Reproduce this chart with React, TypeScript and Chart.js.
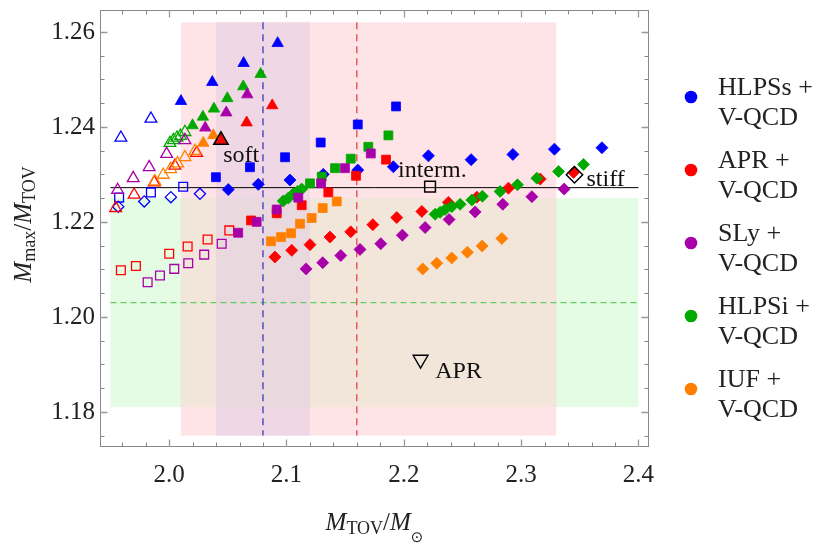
import React, { useEffect, useRef } from "react";
import { Chart, registerables } from "chart.js";

Chart.register(...registerables);

type Pt = [number, number];

// ---------- axes ----------
const xRange = [1.9411, 2.409];
const yRange = [1.1726, 1.2646];
const xTickValues = [2.0, 2.1, 2.2, 2.3, 2.4];
const xTickLabels = ["2.0", "2.1", "2.2", "2.3", "2.4"];
const yTickValues = [1.18, 1.2, 1.22, 1.24, 1.26];
const yTickLabels = ["1.18", "1.20", "1.22", "1.24", "1.26"];
const xMinorTickValues = [1.96, 1.98, 2.02, 2.04, 2.06, 2.08, 2.12, 2.14, 2.16, 2.18, 2.22, 2.24, 2.26, 2.28, 2.32, 2.34, 2.36, 2.38];
const yMinorTickValues = [1.175, 1.185, 1.19, 1.195, 1.205, 1.21, 1.215, 1.225, 1.23, 1.235, 1.245, 1.25, 1.255];

// ---------- series ----------
const seriesNames = ["HLPSs", "APR", "SLy", "HLPSi", "IUF"];
const seriesColors = ["#0000ff", "#ff0000", "#a800a8", "#00a800", "#ff8000"];

// HLPSs + V-QCD
const hlpssTriFilled: Pt[] = [[2.0101, 1.2454], [2.0368, 1.2494], [2.0635, 1.2534], [2.0925, 1.2576]];
const hlpssTriOpen: Pt[] = [[1.9589, 1.2377], [1.9845, 1.2417]];
const hlpssSqFilled: Pt[] = [[2.0399, 1.2294], [2.0689, 1.2315], [2.0988, 1.2336], [2.1292, 1.2367], [2.1608, 1.2405], [2.1934, 1.2443]];
const hlpssSqOpen: Pt[] = [[1.9574, 1.2251], [1.9845, 1.2262], [2.012, 1.2274]];
const hlpssDiaFilled: Pt[] = [[2.0504, 1.2268], [2.076, 1.2279], [2.103, 1.2288], [2.1314, 1.23], [2.1608, 1.2309], [2.1911, 1.2316], [2.221, 1.2339], [2.2574, 1.2331], [2.293, 1.2342], [2.3284, 1.2353], [2.3689, 1.2356]];
const hlpssDiaOpen: Pt[] = [[1.9566, 1.2232], [1.9788, 1.2243], [2.0015, 1.2252], [2.0263, 1.2259]];

// APR + V-QCD
const aprTriFilled: Pt[] = [[2.0442, 1.2372], [2.0661, 1.2409], [2.0879, 1.2445]];
const aprTriOpen: Pt[] = [[1.9545, 1.2229], [1.9702, 1.2257], [1.9873, 1.2283], [2.0049, 1.2318], [2.0235, 1.2345]];
const aprSqFilled: Pt[] = [[2.0698, 1.2203], [2.0917, 1.2218], [2.113, 1.2235], [2.1357, 1.2262], [2.1593, 1.2297], [2.1849, 1.2331]];
const aprSqOpen: Pt[] = [[1.9589, 1.2098], [1.9717, 1.2107], [2.0001, 1.2133], [2.0158, 1.2148], [2.0328, 1.2163], [2.0513, 1.2182]];
const aprDiaFilled: Pt[] = [[2.0902, 1.2126], [2.1045, 1.214], [2.1201, 1.2152], [2.1371, 1.2168], [2.1548, 1.2179], [2.1736, 1.2194], [2.194, 1.2209], [2.2154, 1.2222], [2.238, 1.2241], [2.2623, 1.2252], [2.2892, 1.2271], [2.3163, 1.229], [2.3447, 1.2304]];

// SLy + V-QCD
const slyTriFilled: Pt[] = [[2.0308, 1.2398], [2.0487, 1.243], [2.0666, 1.2468]];
const slyTriOpen: Pt[] = [[1.9561, 1.2267], [1.9694, 1.2292], [1.983, 1.2315], [1.9979, 1.2343], [2.0135, 1.2372]];
const slySqFilled: Pt[] = [[2.0589, 1.2177], [2.0746, 1.22], [2.0917, 1.2226], [2.1101, 1.2251], [2.1295, 1.2281], [2.1499, 1.2313], [2.1719, 1.2344]];
const slySqOpen: Pt[] = [[1.9817, 1.2073], [1.9922, 1.2087], [2.0044, 1.2101], [2.0163, 1.2113], [2.0299, 1.2131], [2.0448, 1.2154]];
const slyDiaFilled: Pt[] = [[2.1167, 1.2101], [2.1309, 1.2114], [2.1463, 1.2129], [2.1627, 1.2142], [2.1804, 1.2154], [2.1988, 1.2172], [2.2182, 1.2188], [2.2386, 1.2205], [2.2608, 1.2221], [2.2844, 1.2237], [2.3092, 1.2253], [2.3367, 1.2269]];

// HLPSi + V-QCD
const hlpsiTriFilled: Pt[] = [[2.02, 1.2403], [2.0288, 1.2421], [2.0382, 1.2438], [2.0496, 1.246], [2.0632, 1.2485], [2.078, 1.2511]];
const hlpsiTriOpen: Pt[] = [[2.0007, 1.2366], [2.0037, 1.2372], [2.0067, 1.2377], [2.0096, 1.2381], [2.0135, 1.2389]];
const hlpsiSqFilled: Pt[] = [[2.1201, 1.2281], [2.1301, 1.2295], [2.1414, 1.2313], [2.1548, 1.2333], [2.1698, 1.2358], [2.1869, 1.2382]];
const hlpsiDiaFilled: Pt[] = [[2.0973, 1.2244], [2.1016, 1.225], [2.1058, 1.2259], [2.1095, 1.2264], [2.113, 1.2269], [2.2267, 1.2216], [2.231, 1.222], [2.2352, 1.2226], [2.2409, 1.2232], [2.248, 1.2237], [2.258, 1.2246], [2.267, 1.2254], [2.2821, 1.2264], [2.2969, 1.2278], [2.3134, 1.2292], [2.3319, 1.2306], [2.3532, 1.2321]];

// IUF + V-QCD
const iufTriFilled: Pt[] = [[2.0291, 1.2366], [2.0376, 1.2382]];
const iufTriOpen: Pt[] = [[1.9879, 1.2285], [1.995, 1.2299], [2.0013, 1.2311], [2.0072, 1.2323], [2.0135, 1.2336], [2.022, 1.2349]];
const iufSqFilled: Pt[] = [[2.0868, 1.2159], [2.0954, 1.2168], [2.1039, 1.2176], [2.1116, 1.2196], [2.1215, 1.2208], [2.1309, 1.2229], [2.1429, 1.2243]];
const iufDiaFilled: Pt[] = [[2.2162, 1.2101], [2.2281, 1.2113], [2.2409, 1.2124], [2.2542, 1.2136], [2.2668, 1.2149], [2.2836, 1.2165]];

// reference models
const softPoint: Pt[] = [[2.0442, 1.2372]];
const intermPoint: Pt[] = [[2.2224, 1.2274]];
const stiffPoint: Pt[] = [[2.3455, 1.2299]];
const aprBoundPoint: Pt[] = [[2.2143, 1.191]];
const annotationTexts = ["soft", "interm.", "stiff", "APR"];
const annotationAnchors: Pt[] = [[2.0461, 1.2326], [2.1951, 1.2294], [2.3557, 1.2276], [2.2268, 1.1871]];

// bands and lines
const greenBandX = [1.95, 2.4];
const greenBandY = [1.181, 1.225];
const pinkBandX = [2.01, 2.33];
const pinkBandY = [1.175, 1.262];
const purpleBandX = [2.04, 2.12];
const blueLineX = 2.08;
const redLineX = 2.16;
const greenLineY = 1.203;
const blackLineY = 1.2272;
const horizLineX = [1.95, 2.4];

const FONT = '"Liberation Serif", "DejaVu Serif", serif';

type Run = { t: string; italic?: boolean; size: number; dy?: number; font?: string };

function runsWidth(ctx: CanvasRenderingContext2D, runs: Run[]) {
  let w = 0;
  for (const r of runs) {
    ctx.font = `${r.italic ? "italic " : ""}${r.size}px ${r.font || FONT}`;
    w += ctx.measureText(r.t).width;
  }
  return w;
}
function drawRuns(ctx: CanvasRenderingContext2D, runs: Run[], x: number, y: number) {
  let cx = x;
  for (const r of runs) {
    ctx.font = `${r.italic ? "italic " : ""}${r.size}px ${r.font || FONT}`;
    ctx.fillText(r.t, cx, y + (r.dy || 0));
    cx += ctx.measureText(r.t).width;
  }
}

function makeDs(data: Pt[], color: string, style: string, filled: boolean, radius: number, rotation = 0, bw?: number) {
  return {
    data: data.map(([x, y]) => ({ x, y })),
    pointStyle: style,
    pointRadius: radius,
    pointHoverRadius: radius,
    pointRotation: rotation,
    pointBackgroundColor: filled ? color : "rgba(0,0,0,0)",
    pointBorderColor: color,
    pointBorderWidth: bw !== undefined ? bw : filled ? 0.8 : 1.3,
    showLine: false,
  };
}

const bgPlugin = {
  id: "bgPlugin",
  beforeDatasetsDraw(chart: any) {
    const ctx: CanvasRenderingContext2D = chart.ctx;
    const xs = chart.scales.x;
    const ys = chart.scales.y;
    const rect = (x0: number, x1: number, y0: number, y1: number, c: string) => {
      const L = xs.getPixelForValue(x0), R = xs.getPixelForValue(x1);
      const T = ys.getPixelForValue(y1), B = ys.getPixelForValue(y0);
      ctx.fillStyle = c;
      ctx.fillRect(L, T, R - L, B - T);
    };
    ctx.save();
    rect(greenBandX[0], greenBandX[1], greenBandY[0], greenBandY[1], "#e4fbe4");
    rect(pinkBandX[0], pinkBandX[1], pinkBandY[0], pinkBandY[1], "#ffe4e7");
    rect(pinkBandX[0], pinkBandX[1], greenBandY[0], greenBandY[1], "#f2e6db");
    rect(purpleBandX[0], purpleBandX[1], pinkBandY[0], pinkBandY[1], "#efd7e5");
    rect(purpleBandX[0], purpleBandX[1], greenBandY[0], greenBandY[1], "#e9d9df");

    ctx.lineWidth = 1.2;
    ctx.setLineDash([6, 4]);
    ctx.strokeStyle = "#66cc66";
    ctx.beginPath();
    ctx.moveTo(xs.getPixelForValue(greenBandX[0]), ys.getPixelForValue(greenLineY));
    ctx.lineTo(xs.getPixelForValue(greenBandX[1]), ys.getPixelForValue(greenLineY));
    ctx.stroke();
    ctx.setLineDash([7, 5]);
    ctx.strokeStyle = "#2e2eb8";
    ctx.beginPath();
    ctx.moveTo(xs.getPixelForValue(blueLineX), ys.getPixelForValue(pinkBandY[1]));
    ctx.lineTo(xs.getPixelForValue(blueLineX), ys.getPixelForValue(pinkBandY[0]));
    ctx.stroke();
    ctx.strokeStyle = "#e03a3a";
    ctx.beginPath();
    ctx.moveTo(xs.getPixelForValue(redLineX), ys.getPixelForValue(pinkBandY[1]));
    ctx.lineTo(xs.getPixelForValue(redLineX), ys.getPixelForValue(pinkBandY[0]));
    ctx.stroke();
    ctx.setLineDash([]);
    ctx.strokeStyle = "#000";
    ctx.lineWidth = 1;
    ctx.beginPath();
    ctx.moveTo(xs.getPixelForValue(horizLineX[0]), ys.getPixelForValue(blackLineY));
    ctx.lineTo(xs.getPixelForValue(horizLineX[1]), ys.getPixelForValue(blackLineY));
    ctx.stroke();
    ctx.restore();
  },
};

const overlayPlugin = {
  id: "overlayPlugin",
  afterDraw(chart: any) {
    const ctx: CanvasRenderingContext2D = chart.ctx;
    const xs = chart.scales.x;
    const ys = chart.scales.y;
    const a = chart.chartArea;
    ctx.save();
    ctx.strokeStyle = "#888";
    ctx.lineWidth = 1;
    ctx.strokeRect(Math.round(a.left) + 0.5, Math.round(a.top) + 0.5, Math.round(a.right - a.left) - 1, Math.round(a.bottom - a.top) - 1);
    const tick = (len: number, vals: number[], axis: "x" | "y") => {
      ctx.beginPath();
      for (const v of vals) {
        if (axis === "x") {
          const px = Math.round(xs.getPixelForValue(v)) + 0.5;
          ctx.moveTo(px, a.bottom); ctx.lineTo(px, a.bottom - len);
          ctx.moveTo(px, a.top); ctx.lineTo(px, a.top + len);
        } else {
          const py = Math.round(ys.getPixelForValue(v)) + 0.5;
          ctx.moveTo(a.left, py); ctx.lineTo(a.left + len, py);
          ctx.moveTo(a.right, py); ctx.lineTo(a.right - len, py);
        }
      }
      ctx.stroke();
    };
    ctx.strokeStyle = "#999";
    ctx.lineWidth = 1.3;
    tick(7.5, xTickValues, "x");
    tick(7.5, yTickValues, "y");
    ctx.strokeStyle = "#888";
    ctx.lineWidth = 1;
    tick(4.5, xMinorTickValues, "x");
    tick(4.5, yMinorTickValues, "y");

    ctx.fillStyle = "#222";
    ctx.font = `25px ${FONT}`;
    ctx.textBaseline = "middle";
    ctx.textAlign = "center";
    xTickValues.forEach((v, i) => ctx.fillText(xTickLabels[i], xs.getPixelForValue(v), a.bottom + 28));
    ctx.textAlign = "right";
    yTickValues.forEach((v, i) => ctx.fillText(yTickLabels[i], a.left - 5, ys.getPixelForValue(v) + 1));

    ctx.textBaseline = "alphabetic";
    ctx.textAlign = "left";
    const xTitle: Run[] = [
      { t: "M", italic: true, size: 25 },
      { t: "TOV", size: 18, dy: 4 },
      { t: "/", size: 25 },
      { t: "M", italic: true, size: 25 },
      { t: "\u2299", size: 15, dy: 12, font: '"DejaVu Sans", sans-serif' },
    ];
    const cx = (a.left + a.right) / 2;
    const xw = runsWidth(ctx, xTitle);
    drawRuns(ctx, xTitle, cx - xw / 2, a.bottom + 83);

    const yTitle: Run[] = [
      { t: "M", italic: true, size: 25 },
      { t: "max", size: 18, dy: 4 },
      { t: "/", size: 25 },
      { t: "M", italic: true, size: 25 },
      { t: "TOV", size: 18, dy: 4 },
    ];
    const yw = runsWidth(ctx, yTitle);
    ctx.save();
    ctx.translate(31, (a.top + a.bottom) / 2 - 4);
    ctx.rotate(-Math.PI / 2);
    drawRuns(ctx, yTitle, -yw / 2, 0);
    ctx.restore();

    ctx.fillStyle = "#111";
    ctx.font = `24px ${FONT}`;
    annotationTexts.forEach((t, i) => {
      const [x, y] = annotationAnchors[i];
      ctx.fillText(t, xs.getPixelForValue(x), ys.getPixelForValue(y));
    });

    const lx = a.right + 42;
    const ly0 = 97;
    const step = 73;
    seriesNames.forEach((n, i) => {
      const y = ly0 + i * step;
      ctx.fillStyle = seriesColors[i];
      ctx.beginPath();
      ctx.arc(lx, y, 6.3, 0, Math.PI * 2);
      ctx.fill();
      ctx.fillStyle = "#222";
      ctx.font = `26px ${FONT}`;
      ctx.fillText(n + " +", lx + 27, y - 2);
      ctx.fillText("V-QCD", lx + 27, y + 27.5);
    });
    ctx.restore();
  },
};

export default function App() {
  const ref = useRef<HTMLCanvasElement | null>(null);
  useEffect(() => {
    document.body.style.margin = "0";
    const c = ref.current;
    if (!c) return;
    const C = seriesColors;
    const list: any[] = [
      makeDs(hlpssTriOpen, C[0], "triangle", false, 6.8),
      makeDs(hlpssSqOpen, C[0], "rect", false, 6.2),
      makeDs(hlpssDiaOpen, C[0], "rectRot", false, 5.6),
      makeDs(hlpssTriFilled, C[0], "triangle", true, 6.6),
      makeDs(hlpssSqFilled, C[0], "rect", true, 6.3),
      makeDs(hlpssDiaFilled, C[0], "rectRot", true, 6.0),
      makeDs(aprTriOpen, C[1], "triangle", false, 6.8),
      makeDs(aprSqOpen, C[1], "rect", false, 6.2),
      makeDs(aprTriFilled, C[1], "triangle", true, 6.6),
      makeDs(aprSqFilled, C[1], "rect", true, 6.3),
      makeDs(aprDiaFilled, C[1], "rectRot", true, 6.0),
      makeDs(hlpsiTriOpen, C[3], "triangle", false, 6.8),
      makeDs(hlpsiTriFilled, C[3], "triangle", true, 6.6),
      makeDs(hlpsiSqFilled, C[3], "rect", true, 6.3),
      makeDs(hlpsiDiaFilled, C[3], "rectRot", true, 6.0),
      makeDs(slyTriOpen, C[2], "triangle", false, 6.8),
      makeDs(slySqOpen, C[2], "rect", false, 6.2),
      makeDs(slyTriFilled, C[2], "triangle", true, 6.6),
      makeDs(slySqFilled, C[2], "rect", true, 6.3),
      makeDs(slyDiaFilled, C[2], "rectRot", true, 6.0),
      makeDs(iufTriOpen, C[4], "triangle", false, 6.8),
      makeDs(iufTriFilled, C[4], "triangle", true, 6.6),
      makeDs(iufSqFilled, C[4], "rect", true, 6.3),
      makeDs(iufDiaFilled, C[4], "rectRot", true, 6.0),
      makeDs(softPoint, "#000", "triangle", false, 8.2, 0, 1.6),
      makeDs(intermPoint, "#000", "rect", false, 7.6, 0, 1.5),
      makeDs(stiffPoint, "#000", "rectRot", false, 8.2, 0, 1.5),
      makeDs(aprBoundPoint, "#000", "triangle", false, 8.6, 180, 1.4),
    ];
    list.forEach((d, i) => (d.order = list.length - i));
    const chart = new Chart(c, {
      type: "scatter",
      data: { datasets: list },
      options: {
        animation: false,
        responsive: false,
        events: [],
        layout: { padding: { left: 100, right: 181, top: 7, bottom: 99 } },
        scales: {
          x: { type: "linear", min: xRange[0], max: xRange[1], display: false },
          y: { type: "linear", min: yRange[0], max: yRange[1], display: false },
        },
        plugins: { legend: { display: false }, tooltip: { enabled: false } },
      },
      plugins: [bgPlugin, overlayPlugin],
    } as any);
    return () => chart.destroy();
  }, []);
  return (
    <div style={{ position: "fixed", left: 0, top: 0, width: 830, height: 546, background: "#fff" }}>
      <canvas ref={ref} width={830} height={546} style={{ width: 830, height: 546 }} />
    </div>
  );
}
